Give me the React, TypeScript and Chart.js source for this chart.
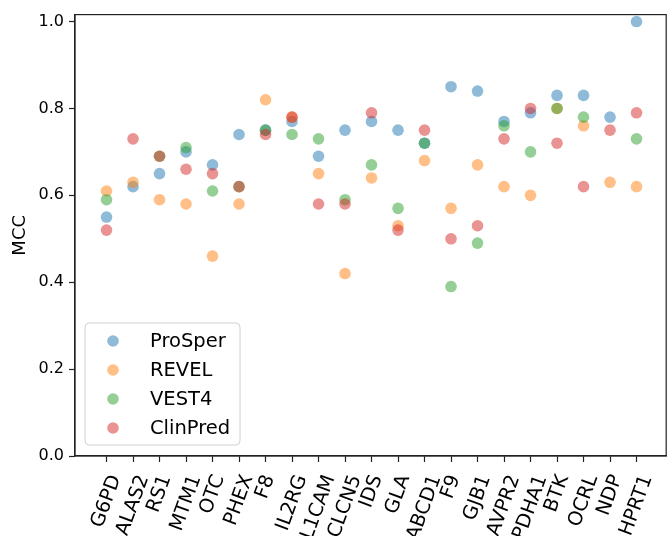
import React, { useEffect, useRef } from "react";
import { Chart, registerables } from "chart.js";

Chart.register(...registerables);

const categories = ["G6PD", "ALAS2", "RS1", "MTM1", "OTC", "PHEX", "F8", "IL2RG", "L1CAM", "CLCN5", "IDS", "GLA", "ABCD1", "F9", "GJB1", "AVPR2", "PDHA1", "BTK", "OCRL", "NDP", "HPRT1"];

const proSper = [0.55, 0.62, 0.65, 0.70, 0.67, 0.74, 0.75, 0.77, 0.69, 0.75, 0.77, 0.75, 0.72, 0.85, 0.84, 0.77, 0.79, 0.83, 0.83, 0.78, 1.00];
const revel = [0.61, 0.63, 0.59, 0.58, 0.46, 0.58, 0.82, 0.78, 0.65, 0.42, 0.64, 0.53, 0.68, 0.57, 0.67, 0.62, 0.60, 0.80, 0.76, 0.63, 0.62];
const vest4 = [0.59, null, 0.69, 0.71, 0.61, 0.62, 0.75, 0.74, 0.73, 0.59, 0.67, 0.57, 0.72, 0.39, 0.49, 0.76, 0.70, 0.80, 0.78, null, 0.73];
const clinPred = [0.52, 0.73, 0.69, 0.66, 0.65, 0.62, 0.74, 0.78, 0.58, 0.58, 0.79, 0.52, 0.75, 0.50, 0.53, 0.73, 0.80, 0.72, 0.62, 0.75, 0.79];

const seriesNames = ["ProSper", "REVEL", "VEST4", "ClinPred"];
const seriesValues = [proSper, revel, vest4, clinPred];
const seriesColors = ["rgba(31,119,180,0.5)", "rgba(255,127,14,0.5)", "rgba(44,160,44,0.5)", "rgba(214,39,40,0.5)"];

const yTicks = [0, 0.2, 0.4, 0.6, 0.8, 1.0];
const yLabel = "MCC";

const FONT = '"DejaVu Sans", sans-serif';

const boxPlugin = {
  id: "boxPlugin",
  afterDraw(chart: any) {
    const { ctx, chartArea } = chart;
    ctx.save();
    ctx.strokeStyle = "#222";
    ctx.lineWidth = 1.2;
    ctx.strokeRect(chartArea.left, chartArea.top, chartArea.right - chartArea.left, chartArea.bottom - chartArea.top);
    ctx.restore();
  },
};

const xLabelPlugin = {
  id: "xLabelPlugin",
  afterDraw(chart: any) {
    const { ctx, chartArea } = chart;
    const xs = chart.scales.x;
    const fs = 19.5;
    const ang = (70 * Math.PI) / 180;
    ctx.save();
    ctx.font = `${fs}px ${FONT}`;
    ctx.fillStyle = "#000";
    const labels: string[] = chart.data.labels;
    labels.forEach((lab, i) => {
      const x = xs.getPixelForValue(i);
      const w = ctx.measureText(lab).width;
      const h = fs * 1.15;
      const H = w * Math.sin(ang) + h * Math.cos(ang);
      const cy = chartArea.bottom + 16 + H / 2;
      ctx.save();
      ctx.translate(x, cy);
      ctx.rotate(-ang);
      ctx.textAlign = "center";
      ctx.textBaseline = "middle";
      ctx.fillText(lab, 0, 0);
      ctx.restore();
    });
    ctx.restore();
  },
};

const legendPlugin = {
  id: "legendPlugin",
  afterDraw(chart: any) {
    const { ctx, chartArea } = chart;
    const bw = 155;
    const bh = 122;
    const left = chartArea.left + 10;
    const top = chartArea.bottom - 11 - bh;
    ctx.save();
    const r = 4;
    ctx.beginPath();
    ctx.moveTo(left + r, top);
    ctx.lineTo(left + bw - r, top);
    ctx.quadraticCurveTo(left + bw, top, left + bw, top + r);
    ctx.lineTo(left + bw, top + bh - r);
    ctx.quadraticCurveTo(left + bw, top + bh, left + bw - r, top + bh);
    ctx.lineTo(left + r, top + bh);
    ctx.quadraticCurveTo(left, top + bh, left, top + bh - r);
    ctx.lineTo(left, top + r);
    ctx.quadraticCurveTo(left, top, left + r, top);
    ctx.closePath();
    ctx.fillStyle = "rgba(255,255,255,0.8)";
    ctx.fill();
    ctx.strokeStyle = "#d0d0d0";
    ctx.lineWidth = 1;
    ctx.stroke();
    ctx.font = `19.5px ${FONT}`;
    ctx.textBaseline = "middle";
    ctx.textAlign = "left";
    chart.data.datasets.forEach((ds: any, i: number) => {
      const y = top + 18 + i * 29;
      ctx.beginPath();
      ctx.arc(left + 28, y, 5.8, 0, Math.PI * 2);
      ctx.fillStyle = ds.backgroundColor;
      ctx.fill();
      ctx.fillStyle = "#000";
      ctx.fillText(ds.label, left + 65, y + 1);
    });
    ctx.restore();
  },
};

export default function App() {
  const ref = useRef<HTMLCanvasElement | null>(null);
  useEffect(() => {
    document.body.style.margin = "0";
    const canvas = ref.current;
    if (!canvas) return;
    const datasets = seriesNames.map((name, s) => ({
      label: name,
      data: seriesValues[s]
        .map((v, i) => ({ x: i, y: v }))
        .filter((p) => p.y !== null),
      backgroundColor: seriesColors[s],
      borderWidth: 0,
      pointRadius: 5.8,
      pointHoverRadius: 5.8,
      order: seriesNames.length - s,
      showLine: false,
    }));
    const chart = new Chart(canvas, {
      type: "scatter",
      data: { labels: categories, datasets: datasets as any },
      options: {
        responsive: false,
        animation: false,
        devicePixelRatio: 1,
        layout: { padding: { left: 0, top: 13, right: 3, bottom: 0 } },
        plugins: { legend: { display: false }, tooltip: { enabled: false } },
        scales: {
          x: {
            type: "linear",
            min: -1.19,
            max: 21.12,
            afterBuildTicks(scale: any) {
              scale.ticks = categories.map((_, i) => ({ value: i }));
            },
            afterFit(scale: any) {
              scale.height = 80;
            },
            ticks: { display: false },
            grid: { drawOnChartArea: false, drawTicks: true, tickLength: 6, color: "#222", tickWidth: 1.2 },
            border: { display: true, color: "#222", width: 1.2 },
          },
          y: {
            type: "linear",
            min: 0,
            max: 1.016,
            afterBuildTicks(scale: any) {
              scale.ticks = yTicks.map((v) => ({ value: v }));
            },
            afterFit(scale: any) {
              scale.width = 75;
            },
            ticks: {
              color: "#000",
              padding: 5,
              font: { family: FONT, size: 16 },
              callback: (v: any) => Number(v).toFixed(1),
            },
            grid: { drawOnChartArea: false, drawTicks: true, tickLength: 6, color: "#222", tickWidth: 1.2 },
            border: { display: true, color: "#222", width: 1.2 },
            title: {
              display: true,
              text: yLabel,
              color: "#000",
              font: { family: FONT, size: 18 },
              padding: { top: 10, bottom: 0 },
            },
          },
        },
      },
      plugins: [boxPlugin, xLabelPlugin, legendPlugin],
    });
    return () => chart.destroy();
  }, []);
  return (
    <div style={{ width: 672, height: 536 }}>
      <canvas ref={ref} width={672} height={536} style={{ display: "block" }} />
    </div>
  );
}
